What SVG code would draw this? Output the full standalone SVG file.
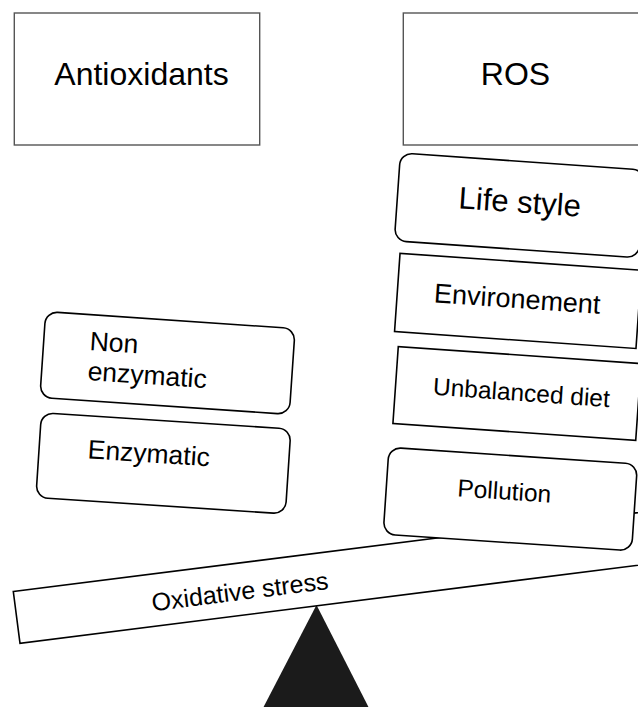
<svg xmlns="http://www.w3.org/2000/svg" width="638" height="707" viewBox="0 0 638 707">
<style>
text { font-family: "Liberation Sans", Arial, sans-serif; fill: #000; }
.top { fill: #fff; stroke: #555; stroke-width: 1.4; }
.box { fill: #fff; stroke: #000; stroke-width: 1.6; }
.mid { text-anchor: middle; }
</style>
<rect width="638" height="707" fill="#fff"/>
<g id="antioxidants">
  <rect class="top" x="14.3" y="13" width="245.4" height="132"/>
  <text class="mid" x="141.5" y="85" font-size="32">Antioxidants</text>
</g>
<g id="ros">
  <rect class="top" x="403.3" y="13" width="250" height="132"/>
  <text class="mid" x="515.5" y="85" font-size="32">ROS</text>
</g>
<g id="fulcrum">
  <polygon points="316.5,605 262,710 370,710" fill="#1b1b1b"/>
</g>
<g id="oxidative-stress">
  <polygon class="box" points="13.3,591.5 707.8,503.8 714.5,555.6 20,643.3"/>
  <text class="mid" transform="translate(241,600) rotate(-7.2)" font-size="25">Oxidative stress</text>
</g>
<g id="life-style" transform="translate(519.6,205.4) rotate(4)">
  <rect class="box" x="-122.5" y="-44" width="245" height="88" rx="12"/>
  <text class="mid" x="0" y="7.1" font-size="31">Life style</text>
</g>
<g id="environement" transform="translate(518,300.9) rotate(4)">
  <rect class="box" x="-121" y="-39.25" width="242" height="78.5"/>
  <text class="mid" x="-0.8" y="7.2" font-size="27">Environement</text>
</g>
<g id="unbalanced-diet" transform="translate(517,393.5) rotate(4)">
  <rect class="box" x="-121.7" y="-38.5" width="243.4" height="77"/>
  <text class="mid" x="4.4" y="7.2" font-size="24.5">Unbalanced diet</text>
</g>
<g id="pollution" transform="translate(510.3,499.1) rotate(3.85)">
  <rect class="box" x="-124.5" y="-43.5" width="249" height="87" rx="12"/>
  <text class="mid" x="-6.5" y="0.8" font-size="24.5">Pollution</text>
</g>
<g id="non-enzymatic" transform="translate(167.5,363) rotate(3.9)">
  <rect class="box" x="-125" y="-43" width="250" height="86" rx="12"/>
  <text x="-79" y="-7.6" font-size="26.5">Non</text>
  <text x="-79" y="22.4" font-size="26.5">enzymatic</text>
</g>
<g id="enzymatic" transform="translate(163.4,463.3) rotate(3.75)">
  <rect class="box" x="-125" y="-42.5" width="250" height="85" rx="12"/>
  <text x="-76.3" y="0" font-size="26.5">Enzymatic</text>
</g>
<g id="connectors"/>
</svg>
